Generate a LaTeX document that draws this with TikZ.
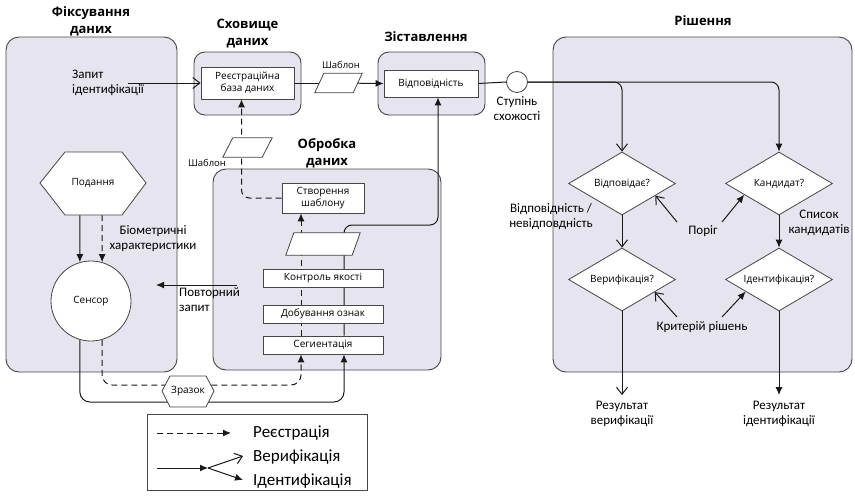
\documentclass[tikz,border=0pt]{standalone}
\usepackage{fontspec}
\setmainfont{Carlito}
\newfontfamily\nodefont{Open Sans}
\usetikzlibrary{arrows.meta,shapes.geometric,calc}
\pgfdeclarelayer{panels}
\pgfdeclarelayer{wires}
\pgfsetlayers{panels,wires,main}
\definecolor{panelfill}{RGB}{230,228,238}
\definecolor{edgec}{RGB}{70,70,70}
\definecolor{wirec}{RGB}{25,25,25}
\begin{document}
\begin{tikzpicture}[x=1pt,y=-1pt,
  panel/.style={draw=edgec, fill=panelfill, rounded corners=13pt, line width=0.9pt, inner sep=0},
  box/.style={draw=edgec, fill=white, line width=0.8pt, font=\nodefont\fontsize{10}{12}\selectfont, align=center, inner sep=0},
  decbox/.style={diamond, draw=edgec, fill=white, line width=0.8pt, minimum width=107pt, minimum height=63pt, inner sep=0, aspect=1.7, font=\nodefont\fontsize{10}{12}\selectfont},
  parab/.style={inner sep=0, draw=none},
  hexa/.style={draw=edgec, fill=white, line width=0.8pt},
  htext/.style={font=\nodefont\fontsize{10}{12}\selectfont, inner sep=0},
  head/.style={font=\nodefont\bfseries\fontsize{13}{17}\selectfont, align=center, inner sep=0},
  lbl/.style={font=\fontsize{13}{15}\selectfont, align=center, inner sep=0},
  small/.style={font=\nodefont\fontsize{9.5}{11}\selectfont, inner sep=0},
  legt/.style={font=\fontsize{17}{19}\selectfont, anchor=west, inner sep=0},
  wire/.style={draw=wirec, line width=1pt},
  farrow/.style={wire, -{Latex[length=8pt,width=7pt]}},
  oarrow/.style={wire, -{Straight Barb[length=7pt,width=11pt]}},
  darrow/.style={wire, dash pattern=on 6pt off 4pt, -{Latex[length=8pt,width=7pt]}},
  dline/.style={wire, dash pattern=on 6pt off 4pt}
]
\useasboundingbox (0,0) rectangle (855,498);

% ---------- panels ----------
\begin{pgfonlayer}{panels}
\node[panel, minimum width=171pt, minimum height=335pt] (cap) at (91.5,204.5) {};
\node[panel, rounded corners=11pt, minimum width=107pt, minimum height=63pt] (stor) at (247.5,83.5) {};
\node[panel, rounded corners=11pt, minimum width=107pt, minimum height=63pt] (zist) at (431.5,83.5) {};
\node[panel, minimum width=228pt, minimum height=201pt] (proc) at (327,269.5) {};
\node[panel, minimum width=299pt, minimum height=335pt] (dec) at (702.5,204.5) {};
\end{pgfonlayer}

% ---------- titles ----------
\node[head] (hcap) at (91,21) {Фіксування\\даних};
\node[head] (hstor) at (247.5,34) {Сховище\\даних};
\node[head] (hzist) at (426,37) {Зіставлення};
\node[head] (hproc) at (327,153) {Обробка\\даних};
\node[head] (hdec) at (703,21) {Рішення};

% ---------- nodes ----------
\draw[hexa] (40,183) -- (65,152) -- (122,152) -- (146,183) -- (122,215) -- (65,215) -- cycle;
\node[htext] (pod) at (93,183) {Подання};
\coordinate (podS1) at (80,215);
\coordinate (podS2) at (102,215);

\node[circle, draw=edgec, fill=white, line width=0.8pt, minimum size=80pt, inner sep=0, font=\nodefont\fontsize{10}{12}\selectfont] (sensor) at (91,301) {Сенсор};

\node[box, minimum width=93pt, minimum height=32pt] (reg) at (247.5,83) {Реєстраційна\\база даних};
\node[box, minimum width=94pt, minimum height=27pt] (vidp) at (431,83.5) {Відповідність};

\node[parab, minimum width=47pt, minimum height=19pt] (shab1) at (338.5,83) {};
\draw[hexa] (shab1.south west) -- ([xshift=9pt]shab1.north west) -- (shab1.north east) -- ([xshift=-9pt]shab1.south east) -- cycle;
\node[small] (lshab1) at (341,65) {Шаблон};
\node[parab, minimum width=49pt, minimum height=19pt] (shab2) at (247.5,147.5) {};
\draw[hexa] (shab2.south west) -- ([xshift=10pt]shab2.north west) -- (shab2.north east) -- ([xshift=-10pt]shab2.south east) -- cycle;
\node[small] (lshab2) at (207,163) {Шаблон};

\node[circle, draw=edgec, fill=white, line width=0.8pt, minimum size=21pt, inner sep=0] (sim) at (517,82) {};
\node[lbl] (lsim) at (517,108.5) {Ступінь\\схожості};

\node[box, minimum width=82pt, minimum height=30pt] (stv) at (323,198) {Створення\\шаблону};
\node[parab, minimum width=74pt, minimum height=22pt] (par3) at (323,244) {};
\draw[hexa] (par3.south west) -- ([xshift=8pt]par3.north west) -- (par3.north east) -- ([xshift=-8pt]par3.south east) -- cycle;
\node[box, minimum width=120pt, minimum height=18pt] (kontr) at (323,278) {Контроль якості};
\node[box, minimum width=120pt, minimum height=18pt] (dob) at (323,314) {Добування ознак};
\node[box, minimum width=120pt, minimum height=18pt] (seg) at (323,345) {Сегиентація};
\coordinate (segL) at ([xshift=-22pt]seg.south);
\coordinate (segR) at ([xshift=21pt]seg.south);
\coordinate (segLn) at ([xshift=-22pt]seg.north);
\coordinate (segRn) at ([xshift=21pt]seg.north);
\coordinate (stvS) at ([xshift=-22pt]stv.south);
\coordinate (regS) at ([xshift=-6pt]reg.south);
\coordinate (vidpS) at ([xshift=7pt]vidp.south);
\coordinate (turn) at (438,225);
\coordinate (botS) at (0,402);
\coordinate (botD) at (0,385);

\node[decbox] (d1) at (622,183.5) {Відповідає?};
\node[decbox] (d2) at (779,183.5) {Кандидат?};
\node[decbox] (d3) at (622,279.5) {Верифікація?};
\node[decbox] (d4) at (779,279.5) {Ідентифікація?};
\node[lbl] (res1) at (622,414) {Результат\\верифікації};
\node[lbl] (res2) at (779,414) {Результат\\ідентифікації};

\node[lbl] (por) at (703,231) {Поріг};
\coordinate (porL) at (677,222);
\coordinate (porR) at (722,222);
\node[lbl] (krit) at (702,327) {Критерій рішень};
\coordinate (kritL) at (677,317);
\coordinate (kritR) at (722,317);
\node[lbl] (spys) at (819,223) {Список\\кандидатів};
\node[lbl] (vvid) at (551,217) {Відповідність /\\невідповдність};

\node[lbl, align=left, anchor=west] (zapyt) at (72,83) {Запит\\ідентифікації};
\coordinate (zq) at (128,83);
\node[lbl] (bio) at (153,239) {Біометричні\\характеристики};
\node[lbl, align=left, anchor=west] (povt) at (179,300) {Повторний\\запит};
\coordinate (povA) at (237,285);
\coordinate (povB) at (156,285);

% ---------- wires ----------
\begin{pgfonlayer}{wires}
\draw[oarrow] (zq) -- (reg.west);
\draw[wire] (reg.east) -- (shab1.center);
\draw[farrow] (shab1.center) -- (vidp.west);
\draw[wire] (vidp.east) -- (sim.west);
\draw[oarrow, rounded corners=8pt] (sim.east) -| (d1.north);
\draw[farrow, rounded corners=8pt] (sim.east) -| (d2.north);
\draw[oarrow] (d1.south) -- (d3.north);
\draw[farrow] (d2.south) -- (d4.north);
\draw[oarrow, shorten >=6pt] (d3.south) -- (res1.north);
\draw[farrow, shorten >=6pt] (d4.south) -- (res2.north);
\draw[oarrow] (porL) -- (d1.-20);
\draw[farrow] (porR) -- (d2.198);
\draw[oarrow] (kritL) -- (d3.-21);
\draw[farrow] (kritR) -- (d4.200);

\draw[farrow] (podS1) -- (sensor.106);
\draw[darrow] (podS2) -- (sensor.74);
\draw[farrow] (povA) -- (povB);

\draw[farrow, rounded corners=10pt] (sensor.254) |- (segR |- botS) -- (segR);
\draw[darrow, rounded corners=10pt] (sensor.286) |- (segL |- botD) -- (segL);
\draw[darrow] (segLn) -- (stvS);
\draw[farrow, rounded corners=8pt] (segRn) |- (turn) -- (vidpS);
\draw[darrow, rounded corners=8pt] (stv.west) -| (regS);
\end{pgfonlayer}

\draw[hexa] (162,391) -- (170,376) -- (206,376) -- (214,391) -- (206,407) -- (170,407) -- cycle;
\node[htext] (zraz) at (188,391) {Зразок};

% ---------- legend ----------
\node[draw=edgec, line width=0.8pt, minimum width=220pt, minimum height=76pt, inner sep=0] (leg) at (257,452) {};
\coordinate (l1a) at (157,433);
\coordinate (l1b) at (231,433);
\coordinate (l2a) at (157,468);
\coordinate (l2b) at (208,468);
\coordinate (l2c) at (243,456);
\coordinate (l2d) at (243,480);
\draw[darrow] (l1a) -- (l1b);
\draw[farrow] (l2a) -- (l2b);
\draw[oarrow] (l2b) -- (l2c);
\draw[farrow] (l2b) -- (l2d);
\node[legt] (t1) at (253,433) {Реєстрація};
\node[legt] (t2) at (253,457) {Верифікація};
\node[legt] (t3) at (253,481) {Ідентифікація};
\end{tikzpicture}
\end{document}
